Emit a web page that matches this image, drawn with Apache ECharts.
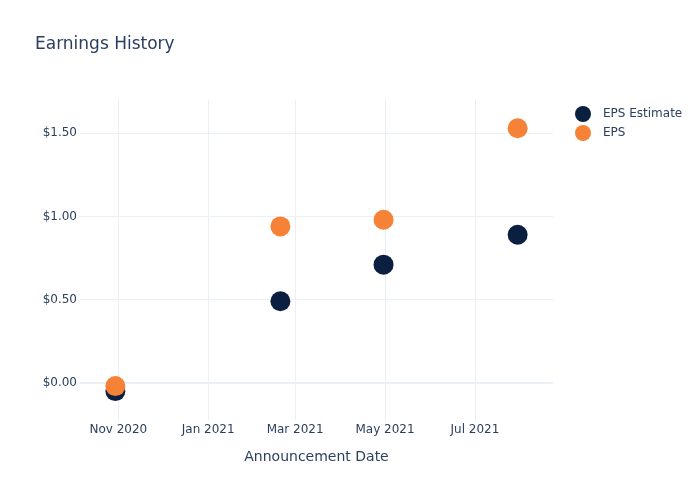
<!DOCTYPE html>
<html>
<head>
<meta charset="utf-8">
<script src="https://cdn.jsdelivr.net/npm/echarts@6/dist/echarts.min.js"></script>
<style>html,body{margin:0;padding:0;background:#fff}#c{width:700px;height:500px}</style>
</head>
<body>
<div id="c"></div>
<script>
var dates = ['2020-10-30', '2021-02-19', '2021-04-30', '2021-07-30'];
var epsEstimate = [-0.05, 0.49, 0.71, 0.89];
var eps = [-0.02, 0.94, 0.98, 1.53];
var xTickDates = ['2020-11-01', '2021-01-01', '2021-03-01', '2021-05-01', '2021-07-01'];
var yTicks = [0, 0.5, 1.0, 1.5];
var monthNames = ['Jan','Feb','Mar','Apr','May','Jun','Jul','Aug','Sep','Oct','Nov','Dec'];

function ts(s) { var p = s.split('-'); return new Date(+p[0], +p[1] - 1, +p[2]).getTime(); }
var xTicks = xTickDates.map(ts);
var FONT = 'DejaVu Sans';
var TXT = '#2a3f5f';
var GRID = '#ebf0f8';

var chart = echarts.init(document.getElementById('c'), null, {renderer: 'canvas'});
chart.setOption({
  animation: false,
  backgroundColor: '#fff',
  textStyle: {fontFamily: FONT},
  title: {
    text: 'Earnings History', left: 30, top: 31,
    textStyle: {fontFamily: FONT, fontSize: 17, fontWeight: 'normal', color: TXT}
  },
  legend: {
    orient: 'vertical', left: 570, top: 101, itemGap: 3,
    icon: 'circle', itemWidth: 16, itemHeight: 16,
    textStyle: {fontFamily: FONT, fontSize: 12, color: TXT, padding: [0, 0, 0, 7]},
    data: ['EPS Estimate', 'EPS']
  },
  grid: {left: 80, right: 147, top: 100, bottom: 80, containLabel: false},
  xAxis: {
    type: 'value',
    min: ts('2020-10-06'), max: ts('2021-08-23'),
    name: 'Announcement Date', nameLocation: 'middle', nameGap: 30,
    nameTextStyle: {fontFamily: FONT, fontSize: 14, color: TXT},
    axisLine: {show: false},
    axisTick: {show: false, customValues: xTicks},
    axisLabel: {
      customValues: xTicks, color: TXT, fontFamily: FONT, fontSize: 12, margin: 4,
      formatter: function (v) { var d = new Date(v); return monthNames[d.getMonth()] + ' ' + d.getFullYear(); }
    },
    splitLine: {show: true, lineStyle: {color: GRID, width: 1}}
  },
  yAxis: {
    type: 'value', min: -0.224, max: 1.70,
    axisLine: {show: false},
    axisTick: {show: false, customValues: yTicks},
    axisLabel: {
      customValues: yTicks, color: TXT, fontFamily: FONT, fontSize: 12, margin: 3,
      formatter: function (v) { return '$' + v.toFixed(2); }
    },
    splitLine: {show: true, lineStyle: {color: GRID, width: 1}}
  },
  series: [
    {
      name: 'EPS Estimate', type: 'scatter', symbolSize: 20,
      itemStyle: {color: '#0b1f41', opacity: 1},
      data: dates.map(function (d, i) { return [ts(d), epsEstimate[i]]; }),
      markLine: {
        silent: true, symbol: 'none', label: {show: false},
        lineStyle: {color: GRID, width: 2, type: 'solid'},
        data: [{yAxis: 0}], z: 1
      },
      z: 3
    },
    {
      name: 'EPS', type: 'scatter', symbolSize: 20,
      itemStyle: {color: '#f58236', opacity: 1},
      data: dates.map(function (d, i) { return [ts(d), eps[i]]; }),
      z: 4
    }
  ]
});
</script>
</body>
</html>
